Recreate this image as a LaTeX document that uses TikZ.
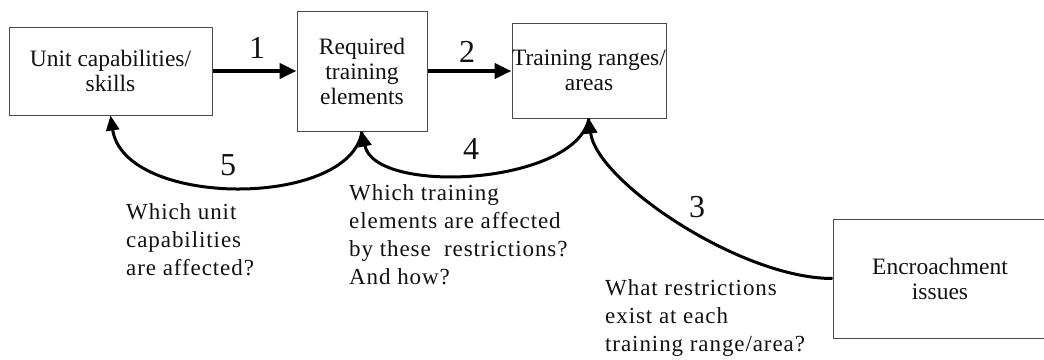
\documentclass[tikz,border=0pt]{standalone}
\usepackage{fontspec}
\setmainfont{Liberation Serif}
\usetikzlibrary{arrows.meta}
\definecolor{boxgray}{HTML}{4A4A4A}
\definecolor{inkblack}{HTML}{111111}
\begin{document}
\begin{tikzpicture}[x=1pt,y=-1pt,
  box/.style={draw=boxgray, line width=1pt, inner sep=0pt, align=center,
    text=inkblack, font=\fontsize{23.5}{25}\selectfont},
  num/.style={inner sep=0pt, text=inkblack, font=\fontsize{32}{32}\selectfont},
  qtext/.style={inner sep=0pt, anchor=north west, align=left, text=inkblack,
    font=\fontsize{23}{28}\selectfont\addfontfeature{LetterSpace=4}},
  bigarrow/.style={line width=4.3pt, -{Triangle[length=17pt,width=15pt]}},
  curvearrow/.style={line width=3pt, -{Triangle[length=15pt,width=13pt]}}]
\useasboundingbox (0,0) rectangle (1044,359);
% boxes
\node[box, minimum width=203pt, minimum height=88pt] (u) at (110.5,71) {Unit capabilities/\\skills};
\node[box, minimum width=130pt, minimum height=120pt] (r) at (362,71) {Required\\training\\elements};
\node[box, minimum width=154pt, minimum height=95pt] (t) at (589,70.5) {Training ranges/\\areas};
\node[box, minimum width=214pt, minimum height=119pt] (e) at (940,278.5) {Encroachment\\issues};
% straight arrows
\draw[bigarrow] (u.east) -- (r.west);
\draw[bigarrow] (r.east) -- (r.east -| t.west);
\node[num] (n1) at (257,48) {1};
\node[num] (n2) at (467,52) {2};
% curved arrows
\draw[curvearrow] (e.west) .. controls +(-93,0) and +(7,62) .. (t.south);
\draw[curvearrow] (t.south) .. controls +(-14,67) and +(13,64) .. (r.south);
\draw[curvearrow] (r.south) .. controls +(-12,77) and +(14,93) .. (u.south);
\node[num] (n3) at (697,207) {3};
\node[num] (n4) at (471,149) {4};
\node[num] (n5) at (228,165) {5};
% questions
\node[qtext] (qa) at (126,203) {Which unit\\capabilities\\are affected?};
\node[qtext] (qb) at (349,184) {Which training\\elements are affected\\by these\ \ restrictions?\\And how?};
\node[qtext] (qc) at (605,279) {What restrictions\\exist at each\\training range/area?};
\end{tikzpicture}
\end{document}
